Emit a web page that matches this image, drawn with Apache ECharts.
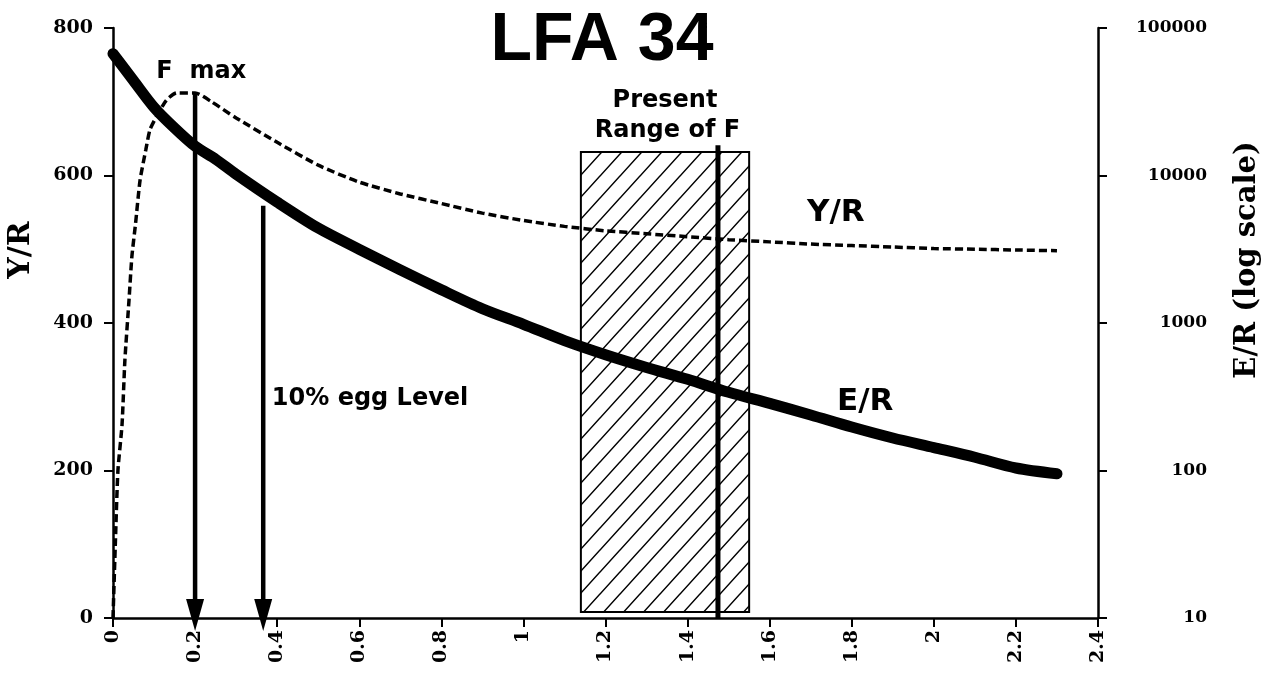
<!DOCTYPE html>
<html>
<head>
<meta charset="utf-8">
<script src="https://cdn.jsdelivr.net/npm/echarts@6/dist/echarts.min.js"></script>
<style>
  html, body { margin: 0; padding: 0; background: #fff; }
  #chart { width: 1275px; height: 673px; }
</style>
</head>
<body>
<div id="chart"></div>
<script>
// Yield per recruit (Y/R) against fishing mortality F
const yrF = [0, 0.006, 0.012, 0.022, 0.029, 0.039, 0.046, 0.055, 0.066, 0.08, 0.09, 0.106, 0.13, 0.155, 0.2, 0.24, 0.3, 0.4, 0.5, 0.6, 0.7, 0.8, 0.9, 1.0, 1.1, 1.2, 1.3, 1.4, 1.5, 1.6, 1.7, 1.8, 1.9, 2.0, 2.1, 2.2, 2.3];
const yrValues = [0, 106, 200, 262, 350, 431, 490, 535, 594, 635, 662, 680, 702, 712, 712, 700, 678, 645, 614, 591, 575, 562, 549, 539, 531, 525, 521, 517, 513, 510, 507, 505, 503, 501, 500, 499, 498];

// Eggs per recruit (E/R), plotted on the log axis
const erF = [0, 0.05, 0.1, 0.15, 0.2, 0.25, 0.3, 0.4, 0.5, 0.6, 0.7, 0.8, 0.9, 1.0, 1.1, 1.2, 1.3, 1.4, 1.5, 1.6, 1.7, 1.8, 1.9, 2.0, 2.1, 2.2, 2.3];
const erValues = [67000, 44000, 29000, 21000, 15800, 12900, 10200, 6600, 4400, 3160, 2290, 1680, 1250, 980, 760, 610, 500, 415, 339, 285, 238, 197, 166, 143, 123, 104, 95];

// Reference points: F max and the 10% egg level (F, Y/R at arrow top)
const arrowF = [0.2, 0.366];
const arrowTop = [712, 559];

// Present range of F (F from, F to, Y/R bottom, Y/R top) and current F
const rangeBox = [1.14, 1.55, 8, 632];
const presentF = 1.474;
const presentTop = 641;

// Text annotations placed in data units (F, Y/R)
const noteText = ['F  max', 'Present', 'Range of F', '10% egg Level', 'Y/R', 'E/R'];
const noteF = [0.215, 1.345, 1.351, 0.387, 1.691, 1.764];
const noteY = [740, 702, 660, 297, 549, 293];
const noteAlign = ['center', 'center', 'center', 'left', 'left', 'left'];
const noteSize = [24, 24, 24, 24, 31, 31];

// Axis ticks
const xMin = 0, xMax = 2.4, xStep = 0.2;
const yMin = 0, yMax = 800, yStep = 200;
const erMin = 10, erMax = 100000;

const titleFont = '"Liberation Sans", Arial, Helvetica, sans-serif';
const sans = '"DejaVu Sans", "Liberation Sans", sans-serif';
const serif = '"DejaVu Serif", serif';

// Diagonal hatching tile for the range box
function hatchPattern() {
  const w = 20, h = 22;
  const c = document.createElement('canvas');
  c.width = w; c.height = h;
  const ctx = c.getContext('2d');
  ctx.strokeStyle = '#000';
  ctx.lineWidth = 1.5;
  ctx.beginPath();
  ctx.moveTo(0, h); ctx.lineTo(w, 0);
  ctx.moveTo(-w, h); ctx.lineTo(w, -h);
  ctx.moveTo(0, 2 * h); ctx.lineTo(2 * w, 0);
  ctx.stroke();
  return { image: c, repeat: 'repeat' };
}

const chart = echarts.init(document.getElementById('chart'), null, { renderer: 'canvas' });

const axisLine = { show: true, lineStyle: { color: '#000', width: 2.5 } };
const axisTick = { show: true, inside: false, length: 9, lineStyle: { color: '#000', width: 2 } };

const option = {
  backgroundColor: '#fff',
  animation: false,
  grid: { left: 113, right: 177, top: 28, bottom: 55, containLabel: false },
  graphic: [
    {
      type: 'text', x: 602, y: 41, z: 10,
      style: { text: 'LFA 34', align: 'center', verticalAlign: 'middle', font: 'bold 68px ' + titleFont, fill: '#000' }
    },
    {
      type: 'text', x: 21, y: 250, rotation: Math.PI / 2, z: 10,
      style: { text: 'Y/R', align: 'center', verticalAlign: 'middle', font: 'bold 30px ' + serif, fill: '#000' }
    },
    {
      type: 'text', x: 1247, y: 260, rotation: Math.PI / 2, z: 10,
      style: { text: 'E/R (log scale)', align: 'center', verticalAlign: 'middle', font: 'bold 29px ' + serif, fill: '#000' }
    }
  ],
  xAxis: {
    type: 'value', min: xMin, max: xMax, interval: xStep,
    axisLine: axisLine, axisTick: axisTick, splitLine: { show: false },
    axisLabel: {
      rotate: 90, margin: 12, color: '#000',
      fontFamily: serif, fontWeight: 'bold', fontSize: 19,
      formatter: v => String(Math.round(v * 10) / 10)
    }
  },
  yAxis: [
    {
      type: 'value', min: yMin, max: yMax, interval: yStep, position: 'left',
      axisLine: axisLine, axisTick: axisTick, splitLine: { show: false },
      axisLabel: { margin: 20, color: '#000', fontFamily: serif, fontWeight: 'bold', fontSize: 19 }
    },
    {
      type: 'log', logBase: 10, min: erMin, max: erMax, position: 'right',
      axisLine: axisLine, axisTick: axisTick, splitLine: { show: false }, minorTick: { show: false },
      axisLabel: {
        margin: 109, align: 'right', color: '#000', fontFamily: serif, fontWeight: 'bold', fontSize: 17,
        formatter: v => String(Math.round(v))
      }
    }
  ],
  series: [
    {
      name: 'Present range of F', type: 'custom', z: 1, yAxisIndex: 0,
      data: [rangeBox],
      renderItem: function (params, api) {
        const p0 = api.coord([api.value(0), api.value(3)]);
        const p1 = api.coord([api.value(1), api.value(2)]);
        return {
          type: 'rect',
          shape: { x: p0[0], y: p0[1], width: p1[0] - p0[0], height: p1[1] - p0[1] },
          style: { fill: hatchPattern(), stroke: '#000', lineWidth: 2 }
        };
      }
    },
    {
      name: 'Y/R', type: 'line', z: 3, yAxisIndex: 0,
      data: yrF.map((f, i) => [f, yrValues[i]]),
      showSymbol: false, smooth: 0.2,
      lineStyle: { color: '#000', width: 3.5, type: [8, 4] }
    },
    {
      name: 'E/R', type: 'line', z: 3, yAxisIndex: 1,
      data: erF.map((f, i) => [f, erValues[i]]),
      showSymbol: false, smooth: 0.3,
      lineStyle: { color: '#000', width: 11, cap: 'round', join: 'round' }
    },
    {
      name: 'Reference F', type: 'custom', z: 4, yAxisIndex: 0,
      data: arrowF.map((f, i) => [f, arrowTop[i]]),
      renderItem: function (params, api) {
        const top = api.coord([api.value(0), api.value(1)]);
        const bottom = api.coord([api.value(0), 0]);
        const x = top[0];
        const tip = bottom[1] + 13;
        const base = tip - 32;
        return {
          type: 'group',
          children: [
            { type: 'line', shape: { x1: x, y1: top[1], x2: x, y2: base + 2 }, style: { stroke: '#000', lineWidth: 4.5 } },
            { type: 'polygon', shape: { points: [[x - 9, base], [x + 9, base], [x, tip]] }, style: { fill: '#000' } }
          ]
        };
      }
    },
    {
      name: 'Current F', type: 'custom', z: 5, yAxisIndex: 0,
      data: [[presentF, presentTop]],
      renderItem: function (params, api) {
        const top = api.coord([api.value(0), api.value(1)]);
        const bottom = api.coord([api.value(0), 0]);
        return {
          type: 'line',
          shape: { x1: top[0], y1: top[1], x2: bottom[0], y2: bottom[1] },
          style: { stroke: '#000', lineWidth: 5 }
        };
      }
    },
    {
      name: 'Notes', type: 'custom', z: 6, yAxisIndex: 0,
      data: noteF.map((f, i) => [f, noteY[i]]),
      renderItem: function (params, api) {
        const i = params.dataIndex;
        const p = api.coord([api.value(0), api.value(1)]);
        return {
          type: 'text', x: p[0], y: p[1],
          style: {
            text: noteText[i], align: noteAlign[i], verticalAlign: 'middle',
            font: 'bold ' + noteSize[i] + 'px ' + sans, fill: '#000'
          }
        };
      }
    }
  ]
};

chart.setOption(option);
</script>
</body>
</html>
